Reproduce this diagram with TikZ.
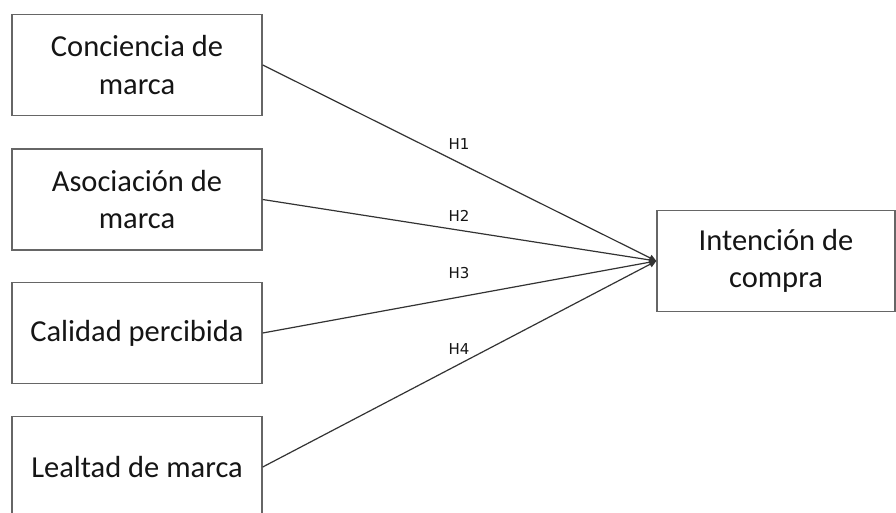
\documentclass[tikz,border=0pt]{standalone}
\usepackage{fontspec}
\setmainfont{Carlito}
\newfontfamily\labfont{DejaVu Sans}
\usetikzlibrary{arrows.meta}
\definecolor{boxline}{HTML}{666666}
\definecolor{conline}{HTML}{333333}
\definecolor{txt}{HTML}{151515}
\begin{document}
\begin{tikzpicture}[x=1pt,y=-1pt,
  varbox/.style={draw=boxline,line width=1.4pt,fill=white,minimum width=250pt,minimum height=101pt,
    inner sep=0pt,align=center,text=txt,font=\fontsize{30.5}{37.5}\selectfont},
  conn/.style={draw=conline,line width=1.2pt,-{Triangle[length=7pt,width=6.5pt]}},
  hlab/.style={text=txt,font=\labfont\fontsize{15}{16}\selectfont,inner sep=0pt}]
\useasboundingbox (0,0) rectangle (896,513);
\clip (0,0) rectangle (896,513);
\fill[white] (0,0) rectangle (896,513);
\node[varbox] (b1) at (137,65) {Conciencia de\\marca};
\node[varbox] (b2) at (137,199.5) {Asociación de\\marca};
\node[varbox] (b3) at (137,333) {Calidad percibida};
\node[varbox] (b4) at (137,467) {Lealtad de marca};
\node[varbox,minimum width=238pt] (t) at (776,261) {Intención de\\compra};
\coordinate (tip) at (t.west);
\draw[conn] (b1.east) -- (tip);
\draw[conn] (b2.east) -- (tip);
\draw[conn] (b3.east) -- (tip);
\draw[conn] (b4.east) -- (tip);
\node[hlab] (h1) at (459,144) {H1};
\node[hlab] (h2) at (459,216) {H2};
\node[hlab] (h3) at (459,273) {H3};
\node[hlab] (h4) at (459,349) {H4};
\end{tikzpicture}
\end{document}
